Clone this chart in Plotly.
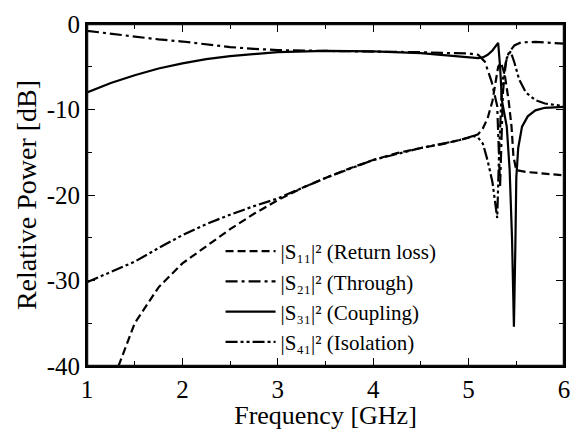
import plotly.graph_objects as go

# ---- data ----
s11_f = [1.33, 1.5, 1.75, 2.0, 2.25, 2.5, 2.75, 3.0, 3.25, 3.5, 3.75, 4.0, 4.25, 4.5, 4.75,
         5.0, 5.1, 5.15, 5.2, 5.25, 5.28, 5.31, 5.34, 5.38, 5.42, 5.45, 5.47, 5.5, 5.6, 5.8, 6.0]
s11_db = [-40, -35, -30.8, -28.0, -26.0, -24.0, -22.2, -20.6, -19.2, -18.0, -16.9, -15.9, -15.1, -14.5, -14.0,
          -13.3, -12.9, -12.2, -11.0, -9.0, -7.0, -5.0, -4.5, -6.0, -9.0, -12.0, -15.5, -17.1, -17.3, -17.5, -17.7]

s21_f = [1.0, 1.25, 1.5, 1.75, 2.0, 2.25, 2.5, 2.75, 3.0, 3.5, 4.0, 4.5, 4.8, 5.0, 5.1, 5.17,
         5.24, 5.3, 5.33, 5.36, 5.39, 5.42, 5.48, 5.55, 5.7, 6.0]
s21_db = [-0.8, -1.15, -1.5, -1.8, -2.05, -2.4, -2.7, -2.9, -3.05, -3.15, -3.2, -3.3, -3.4, -3.45, -3.6, -4.4,
          -6.7, -9.6, -19.0, -8.0, -4.5, -3.4, -2.5, -2.15, -2.1, -2.3]

s31_f = [1.0, 1.25, 1.5, 1.75, 2.0, 2.25, 2.5, 2.75, 3.0, 3.5, 4.0, 4.5, 4.8, 5.0, 5.1, 5.15, 5.2,
         5.25, 5.29, 5.31, 5.33, 5.35, 5.4, 5.43, 5.455, 5.475, 5.49, 5.5, 5.52, 5.56, 5.62, 5.7, 5.8, 6.0]
s31_db = [-8.0, -6.9, -6.0, -5.2, -4.6, -4.1, -3.75, -3.5, -3.3, -3.15, -3.2, -3.4, -3.7, -3.9, -4.0, -3.9, -3.6,
          -3.1, -2.5, -2.2, -5.0, -9.0, -12.0, -17.0, -25.0, -35.4, -26.0, -18.0, -14.5, -12.0, -10.8, -10.1, -9.8, -9.7]

s41_f = [1.0, 1.25, 1.5, 1.75, 2.0, 2.25, 2.5, 2.75, 3.0, 3.5, 4.0, 4.5, 4.9, 5.05, 5.1, 5.15,
         5.2, 5.25, 5.3, 5.32, 5.35, 5.4, 5.44, 5.48, 5.53, 5.6, 5.7, 5.8, 6.0]
s41_db = [-30.2, -29.0, -27.8, -26.2, -24.7, -23.4, -22.3, -21.3, -20.4, -18.0, -15.9, -14.5, -13.6, -13.1, -13.3, -14.0,
          -16.0, -18.5, -22.7, -15.0, -7.0, -4.0, -3.2, -4.5, -6.5, -8.0, -8.9, -9.3, -9.6]

names = ["|S\u2081\u2081|\u00b2 (Return loss)",
         "|S\u2082\u2081|\u00b2 (Through)",
         "|S\u2083\u2081|\u00b2 (Coupling)",
         "|S\u2084\u2081|\u00b2 (Isolation)"]

x_ticks = [1, 2, 3, 4, 5, 6]
x_minor = [1.5, 2.5, 3.5, 4.5, 5.5]
y_ticks = [0, -10, -20, -30, -40]
y_minor = [-5, -15, -25, -35]

dashes = ["8px,4px", "12px,4px,3px,4px", "solid", "12px,3px,3px,3px,3px,3px"]

fig = go.Figure()
for f, d, n, ds in zip([s11_f, s21_f, s31_f, s41_f], [s11_db, s21_db, s31_db, s41_db], names, dashes):
    fig.add_trace(go.Scatter(x=f, y=d, name=n, mode="lines", cliponaxis=True,
                             line=dict(color="black", width=2.2, dash=ds)))

font = "Liberation Serif, Times New Roman, serif"
tick_common = dict(ticks="inside", ticklen=8, tickwidth=1.2, tickcolor="black",
                   showgrid=False, zeroline=False, showline=True, linecolor="#000000",
                   linewidth=2, mirror="ticks")
fig.update_layout(
    xaxis=dict(range=[1, 6], tickvals=x_ticks, ticktext=[str(v) for v in x_ticks],
               minor=dict(tickvals=x_minor, ticks="inside", ticklen=5, tickcolor="black",
                          tickwidth=1.2, showgrid=False),
               tickfont=dict(family=font, size=25, color="black"),
               title=dict(text="Frequency [GHz]", font=dict(family=font, size=26, color="black"), standoff=0),
               **tick_common),
    yaxis=dict(range=[-40, 0], tickvals=y_ticks, ticktext=[str(v) for v in y_ticks],
               minor=dict(tickvals=y_minor, ticks="inside", ticklen=5, tickcolor="black",
                          tickwidth=1.2, showgrid=False),
               tickfont=dict(family=font, size=25, color="black"),
               title=dict(text="Relative Power [dB]", font=dict(family=font, size=28, color="black"), standoff=2),
               **tick_common),
)
# frame around the plotting area, drawn in axis coordinates
fig.add_shape(type="rect", xref="x", yref="y",
              x0=x_ticks[0], x1=x_ticks[-1], y0=y_ticks[-1], y1=y_ticks[0],
              line=dict(color="#111111", width=2.5), layer="above")
fig.update_layout(width=579, height=430, margin=dict(l=87, r=9, t=24, b=60),
                  plot_bgcolor="white", paper_bgcolor="white",
                  showlegend=True,
                  legend=dict(x=0.28, y=0.395, xanchor="left", yanchor="top",
                              bgcolor="rgba(0,0,0,0)", tracegroupgap=0,
                              font=dict(family=font, size=21, color="black"),
                              itemwidth=50))
fig.write_html("out.html", config={"displayModeBar": False},
               post_script="document.body.style.margin='0';document.body.style.padding='0';")
